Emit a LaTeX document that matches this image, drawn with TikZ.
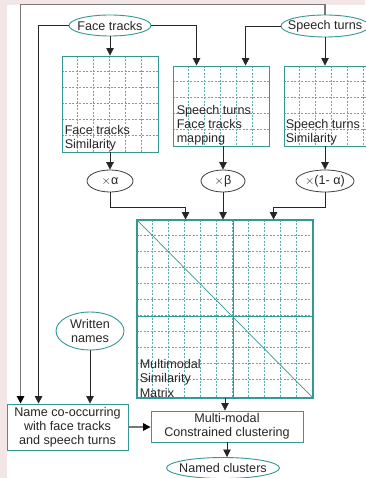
\documentclass[tikz,border=0pt]{standalone}
\usepackage{fontspec}
\setmainfont{Liberation Sans}
\usetikzlibrary{arrows.meta,shapes.geometric,calc}
\definecolor{mteal}{RGB}{52,152,150}
\definecolor{bgpink}{RGB}{242,230,230}
\definecolor{lgrey}{RGB}{120,120,120}
\tikzset{
  txt/.style={font=\fontsize{12.6}{14.2}\selectfont, text=black!85},
  tealell/.style={ellipse, draw=mteal, line width=0.9pt, fill=white, inner xsep=-6pt, inner ysep=0pt, txt},
  darkell/.style={ellipse, draw=black!75, line width=0.8pt, fill=white, inner xsep=-4pt, inner ysep=0pt, txt},
  matbox/.style={rectangle, draw=mteal, line width=0.9pt, inner sep=0pt},
  gridln/.style={mteal!80, dash pattern=on 2pt off 1.5pt, line width=0.45pt},
  procbox/.style={rectangle, draw=mteal, line width=0.9pt, fill=white, align=center, inner sep=0pt, txt},
  conn/.style={black!85, line width=0.8pt, -{Triangle[width=7.5pt,length=7.5pt]}},
  gconn/.style={lgrey, line width=1.3pt, -{Triangle[width=7.5pt,length=7.5pt,color=black]}},
  mtext/.style={txt, align=left, inner sep=0pt, anchor=south west},
}
\begin{document}
\begin{tikzpicture}[x=1pt,y=-1pt]
\useasboundingbox (0,0) rectangle (365,478);
\fill[bgpink] (0,0) rectangle (365,478);
\fill[white] (7,5) rectangle (365,478);

% top ellipses
\node[tealell, minimum width=82, minimum height=21] (ft) at (110,25.5) {Face tracks};
\node[tealell, minimum width=82, minimum height=22] (st) at (325,26) {Speech turns};

% matrices
\node[matbox, minimum width=96, minimum height=96] (m1) at (110,104) {};
\node[matbox, minimum width=96, minimum height=80] (m2) at (221,106) {};
\node[matbox, minimum width=96, minimum height=80] (m3) at (332,106) {};
\foreach \i in {1,...,5} {
  \draw[gridln] ($(m1.north west)+(16*\i,0)$) -- ($(m1.south west)+(16*\i,0)$);
  \draw[gridln] ($(m1.north west)+(0,16*\i)$) -- ($(m1.north east)+(0,16*\i)$);
  \draw[gridln] ($(m2.north west)+(16*\i,0)$) -- ($(m2.south west)+(16*\i,0)$);
  \draw[gridln] ($(m3.north west)+(16*\i,0)$) -- ($(m3.south west)+(16*\i,0)$);
}
\foreach \i in {1,...,4} {
  \draw[gridln] ($(m2.north west)+(0,16*\i)$) -- ($(m2.north east)+(0,16*\i)$);
  \draw[gridln] ($(m3.north west)+(0,16*\i)$) -- ($(m3.north east)+(0,16*\i)$);
}
\node[matbox] at (m1) [minimum width=96, minimum height=96] {};
\node[matbox] at (m2) [minimum width=96, minimum height=80] {};
\node[matbox] at (m3) [minimum width=96, minimum height=80] {};
\node[mtext] (t1) at ($(m1.south west)+(3,-1)$) {Face tracks\\Similarity};
\node[mtext] (t2) at ($(m2.south west)+(4,-1)$) {Speech turns\\Face tracks\\mapping};
\node[mtext] (t3) at ($(m3.south west)+(2,-1)$) {Speech turns\\Similarity};

% weights
\node[darkell, minimum width=46, minimum height=22] (ea) at (110,181) {$\times$α};
\node[darkell, minimum width=44, minimum height=22] (eb) at (223,181) {$\times$β};
\node[darkell, minimum width=58, minimum height=22] (ec) at (325,181) {$\times$(1- α)};

% big matrix
\node[matbox, minimum width=176, minimum height=178] (big) at (225,309) {};
\foreach \i in {1,...,10} {
  \draw[gridln] ($(big.north west)+(16*\i,0)$) -- ($(big.south west)+(16*\i,0)$);
  \draw[gridln] ($(big.north west)+(0,16*\i)$) -- ($(big.north east)+(0,16*\i)$);
}
\draw[mteal, line width=0.7pt] (big.north west) -- (big.south east);
\draw[mteal, line width=1.2pt] ($(big.north west)+(97,0)$) -- ($(big.south west)+(97,0)$);
\draw[mteal, line width=1.2pt] ($(big.north west)+(0,97)$) -- ($(big.north east)+(0,97)$);
\node[matbox, minimum width=176, minimum height=178, line width=1.1pt] at (big) {};
\node[mtext] (t4) at ($(big.south west)+(3,-1)$) {Multimodal\\Similarity\\Matrix};

% lower nodes
\node[tealell, minimum width=68, minimum height=38, align=center] (wn) at (90,331) {Written\\names};
\node[procbox, minimum width=121, minimum height=46] (name) at (67.5,427) {Name co-occurring\\with face tracks\\and speech turns};
\node[procbox, minimum width=152, minimum height=31] (mm) at (227,426.5) {Multi-modal\\Constrained clustering};
\node[tealell, minimum width=113, minimum height=21] (nc) at (223,468) {Named clusters};

% connectors
\draw[gconn] (st.north) -- ++(0,-10) -| ([xshift=14]name.north west);
\draw[conn] (ft.west) -| ([xshift=32]name.north west);
\draw[conn] (ft.south) -- (m1.north);
\draw[conn] (ft.east) -| ([xshift=24]m2.north west);
\draw[conn] (st.west) -| ([xshift=73]m2.north west);
\draw[conn] (st.south) -- (st.south |- m3.north);
\draw[conn] (m1.south) -- (ea.north);
\draw[conn] (eb.north |- m2.south) -- (eb.north);
\draw[conn] (ec.north |- m3.south) -- (ec.north);
\draw[conn] (ea.south) -- ++(0,15) -| ([xshift=49]big.north west);
\draw[conn] (eb.south) -- (eb.south |- big.north);
\draw[conn] (ec.south) -- ++(0,15) -| ([xshift=137]big.north west);
\draw[conn] (big.south) -- (big.south |- mm.north);
\draw[conn] (wn.south) -- (wn.south |- name.north);
\draw[gconn] (name.east) -- (name.east -| mm.west);
\draw[conn] (mm.south) -- (mm.south |- nc.north);
\end{tikzpicture}
\end{document}
